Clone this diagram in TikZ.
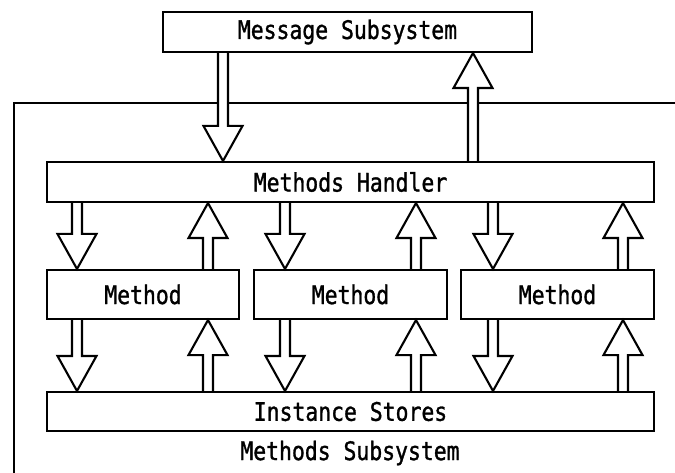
\documentclass[tikz,border=0pt]{standalone}
\usepackage{fontspec}
\newfontfamily\dotfont[FakeStretch=0.84,FakeBold=1.2]{DejaVu Sans Mono}
\usetikzlibrary{calc}

\begin{document}
\begin{tikzpicture}[x=1pt,y=-1pt,
  line width=2.1pt,
  every node/.style={font=\dotfont\fontsize{25.5}{27}\selectfont},
  unit/.style={draw,fill=white,inner sep=0pt,minimum height=#1},
  unit/.default=40pt,
  % hollow block arrow from one box edge to another
  flow/.style={fill=white,line join=miter,
    to path={let \p1=(\tikztostart), \p2=(\tikztotarget),
      \p3=($(\tikztotarget)!35pt!(\tikztostart)$) in
      ({\x1-5pt},\y1) -- ({\x1-5pt},\y3) -- ({\x1-19.5pt},\y3) -- (\x2,\y2)
      -- ({\x1+19.5pt},\y3) -- ({\x1+5pt},\y3) -- ({\x1+5pt},\y1)}}]

\useasboundingbox (0,0) rectangle (675,473);

% enclosing frame of the methods subsystem
\coordinate (frameL) at (14,480);
\coordinate (frameC) at (14,103);
\coordinate (frameR) at (680,103);
\draw (frameL) -- (frameC) -- (frameR);

% boxes
\node[unit,minimum width=369pt] (ms) at (347.5,32) {Message Subsystem};
\node[unit,minimum width=607pt] (mh) at (350.5,182) {Methods Handler};
\node[unit=49pt,minimum width=192pt] (m1) at (143,294.5) {Method};
\node[unit=49pt,minimum width=193pt] (m2) at (350.5,294.5) {Method};
\node[unit=49pt,minimum width=193pt] (m3) at (557.5,294.5) {Method};
\node[unit=39pt,minimum width=607pt] (is) at (350.5,411.5) {Instance Stores};
\node (sub) at (350,453) {Methods Subsystem};

% arrow columns
\coordinate (tdn) at (223,0);
\coordinate (tup) at (473,0);
\coordinate (d1) at (77,0);
\coordinate (u1) at (208,0);
\coordinate (d2) at (285,0);
\coordinate (u2) at (416,0);
\coordinate (d3) at (493,0);
\coordinate (u3) at (623,0);

% message subsystem <-> methods handler
\draw[flow] (ms.south -| tdn) to (mh.north -| tdn);
\draw[flow] (mh.north -| tup) to (ms.south -| tup);

% methods handler <-> methods
\draw[flow] (mh.south -| d1) to (m1.north -| d1);
\draw[flow] (m1.north -| u1) to (mh.south -| u1);
\draw[flow] (mh.south -| d2) to (m2.north -| d2);
\draw[flow] (m2.north -| u2) to (mh.south -| u2);
\draw[flow] (mh.south -| d3) to (m3.north -| d3);
\draw[flow] (m3.north -| u3) to (mh.south -| u3);

% methods <-> instance stores
\draw[flow] (m1.south -| d1) to (is.north -| d1);
\draw[flow] (is.north -| u1) to (m1.south -| u1);
\draw[flow] (m2.south -| d2) to (is.north -| d2);
\draw[flow] (is.north -| u2) to (m2.south -| u2);
\draw[flow] (m3.south -| d3) to (is.north -| d3);
\draw[flow] (is.north -| u3) to (m3.south -| u3);
\end{tikzpicture}
\end{document}
